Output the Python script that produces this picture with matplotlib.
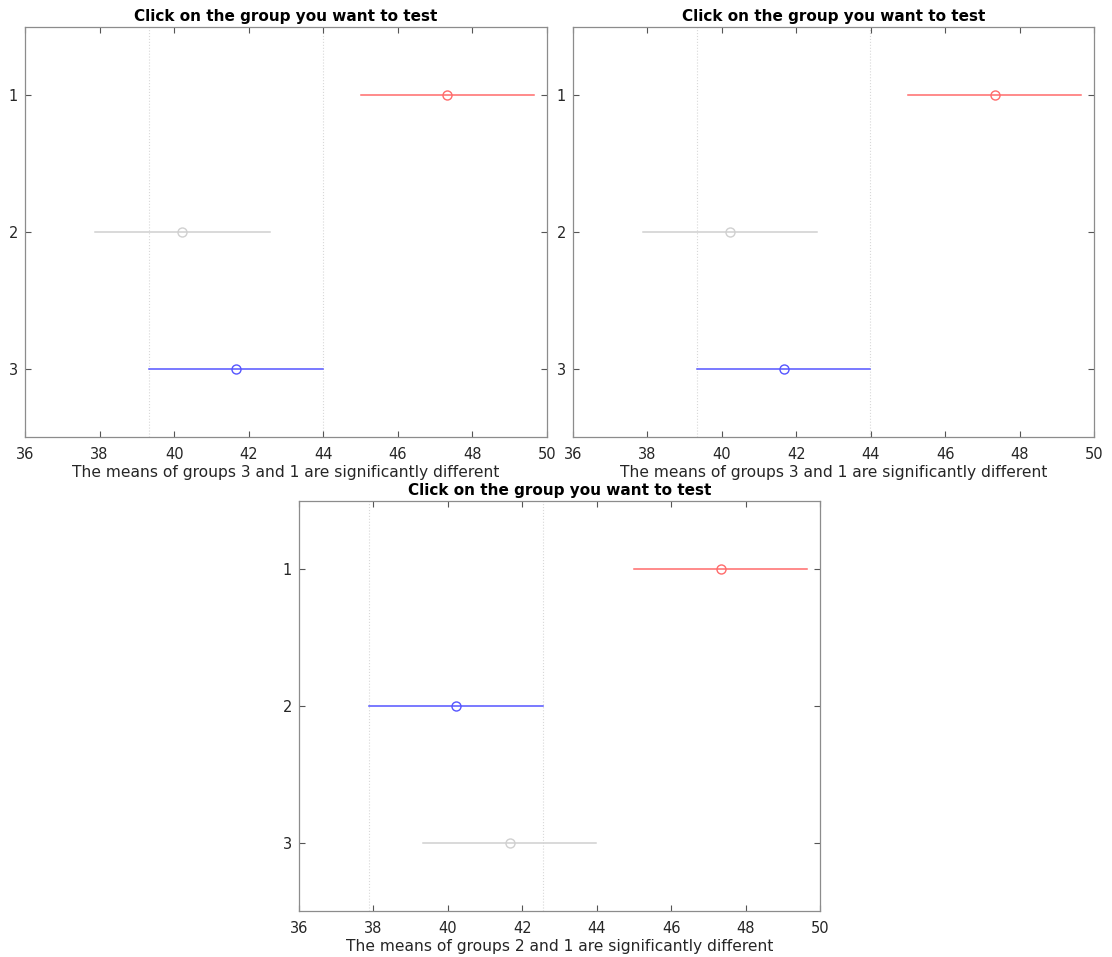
import numpy as np
import matplotlib
matplotlib.use('Agg')
import matplotlib.pyplot as plt

# group means and comparison interval half-widths
groups = [1, 2, 3]
means = [47.33, 40.22, 41.66]
half_width = [2.33, 2.34, 2.33]

# one entry per panel: (selected group, group shown as different, x-label)
panels = [
    (3, 1, 'The means of groups 3 and 1 are significantly different'),
    (3, 1, 'The means of groups 3 and 1 are significantly different'),
    (2, 1, 'The means of groups 2 and 1 are significantly different'),
]
title = 'Click on the group you want to test'
xticks = [36, 38, 40, 42, 44, 46, 48, 50]

W, H = 1112, 957
fig = plt.figure(figsize=(W / 100, H / 100), dpi=100)

# axes boxes in pixels: left, top, right, bottom
boxes = [(25, 27, 547, 437), (573, 27, 1094, 437), (299, 501, 820, 911)]

for (sel, diff, xlabel), (l, t, r, b) in zip(panels, boxes):
    ax = fig.add_axes([l / W, 1 - b / H, (r - l) / W, (b - t) / H])
    lo = np.array(means) - np.array(half_width)
    hi = np.array(means) + np.array(half_width)
    for g, m, a, z in zip(groups, means, lo, hi):
        if g == sel:
            c = '#5555ff'
        elif g == diff:
            c = '#ff6b6b'
        else:
            c = '#d0d0d0'
        ax.plot([a, z], [g, g], color=c, lw=1.1)
        ax.plot(m, g, 'o', mfc='none', mec=c, ms=6.5, mew=1.0)
    # dotted lines marking the selected group's interval
    i = groups.index(sel)
    for x in (lo[i], hi[i]):
        ax.axvline(x, color='#d8d8d8', lw=0.8, ls=':', zorder=0)

    ax.set_xlim(36, 50)
    ax.set_ylim(3.5, 0.5)
    ax.set_xticks(xticks)
    ax.set_yticks(groups)
    ax.tick_params(direction='in', top=True, right=True, length=4,
                   color='#555555', labelsize=10.5, labelcolor='#262626')
    ax.tick_params(axis='x', pad=7)
    ax.tick_params(axis='y', pad=5)
    for s in ax.spines.values():
        s.set_color('#8c8c8c')
        s.set_linewidth(0.9)
    ax.set_title(title, fontsize=11, fontweight='bold', pad=4)
    ax.set_xlabel(xlabel, fontsize=11.2, color='#262626', labelpad=2)

fig.savefig('out.png', dpi=100)
